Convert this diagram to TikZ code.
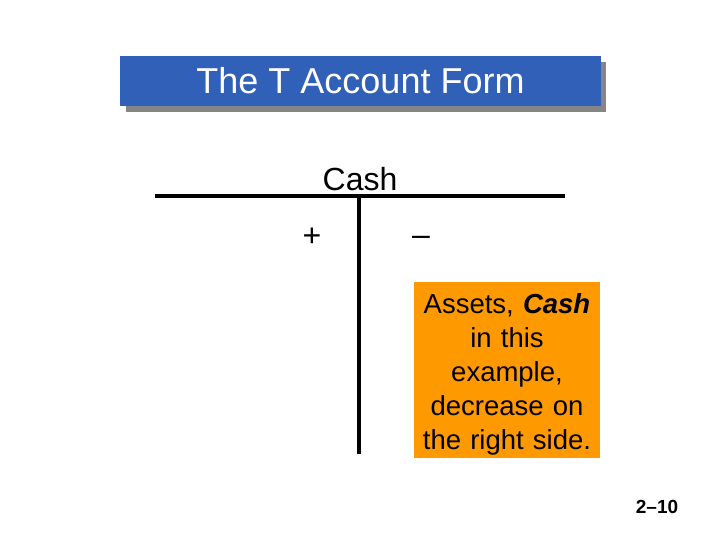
\documentclass[tikz,border=0pt]{standalone}
\usepackage{fontspec}
\setmainfont{Liberation Sans}
\definecolor{titleblue}{HTML}{3060B8}
\definecolor{shadowgray}{HTML}{858585}
\definecolor{noteorange}{HTML}{FF9900}
\begin{document}
\begin{tikzpicture}[x=1pt,y=-1pt,
  tline/.style={line width=4pt},
  bigtext/.style={font=\fontsize{32}{36}\selectfont},
  notetext/.style={font=\fontsize{27.5}{34}\selectfont, align=center, text width=184pt}]
\useasboundingbox (0,0) rectangle (720,540);
% title
\fill[shadowgray] (126,62) rectangle (606,112);
\node[fill=titleblue, minimum width=481pt, minimum height=50pt, inner sep=0pt,
  text=white, font=\fontsize{36}{40}\selectfont] (title) at (360.5,81) {The T Account Form};
% T account
\coordinate (hl) at (155,196);
\coordinate (hr) at (565,196);
\coordinate (vt) at (359,194);
\coordinate (vb) at (359,454);
\draw[tline] (hl) -- (hr);
\draw[tline] (vt) -- (vb);
\node[bigtext] (cash) at (360,179) {Cash};
\node[bigtext] (plus) at (312,237) {+};
\node[bigtext] (minus) at (421,241) {–};
% note
\node[fill=noteorange, minimum width=186pt, minimum height=176pt, inner sep=0pt] (note) at (507,370) {};
\node[notetext, anchor=north] (notetxt) at (507,290) {Assets, \textbf{\textit{Cash}}\\in this\\example,\\decrease on\\the right side.};
\node[font=\fontsize{19}{21}\selectfont\bfseries] (page) at (657,507) {2–10};
\end{tikzpicture}
\end{document}
